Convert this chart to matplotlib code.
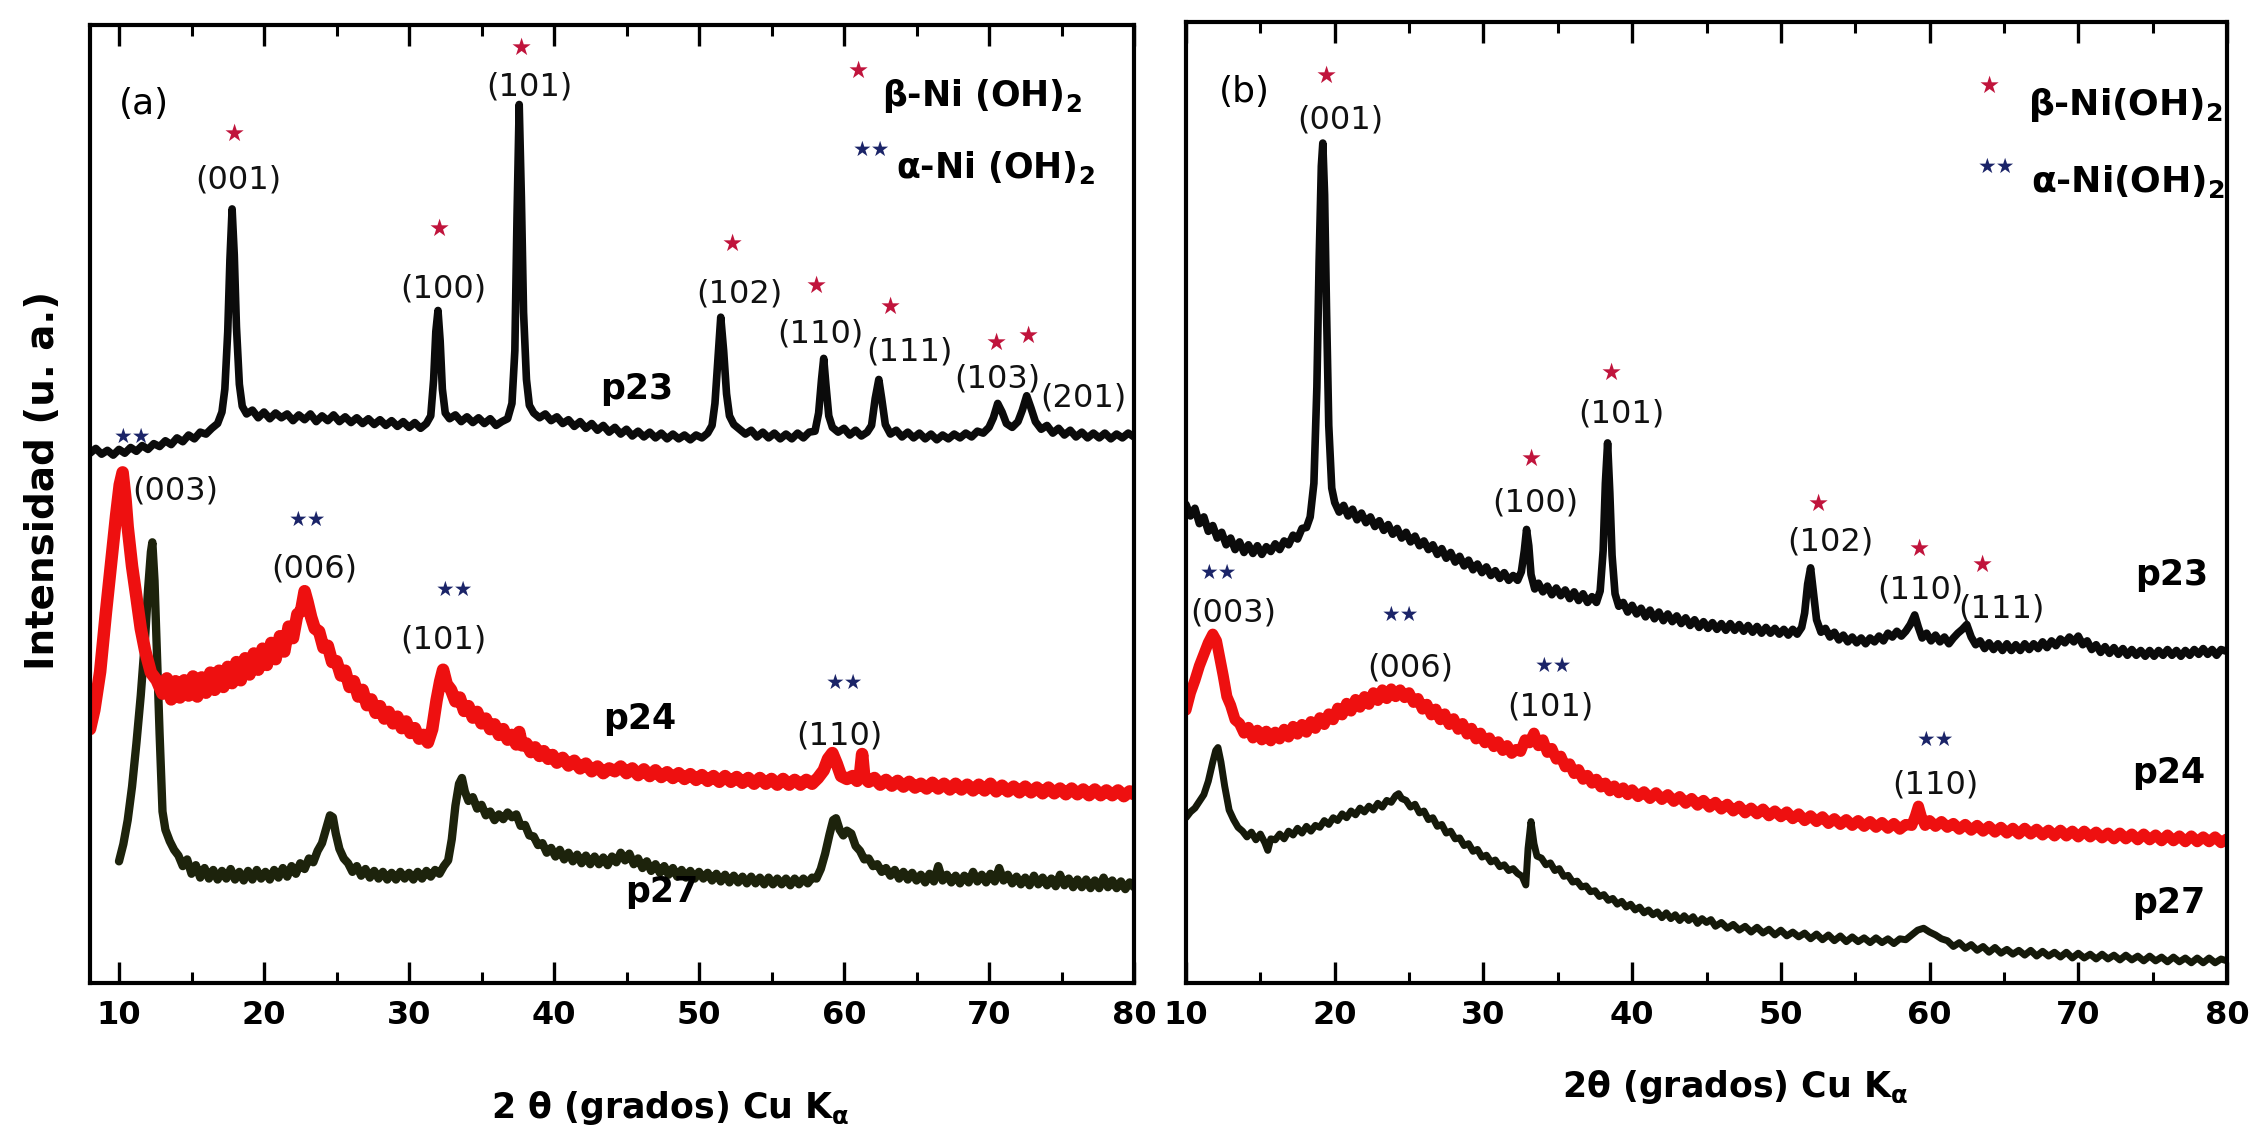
import numpy as np
import matplotlib
matplotlib.use("Agg")
import matplotlib.pyplot as plt
from matplotlib.ticker import MultipleLocator

plt.rcParams["font.family"] = ["DejaVu Sans"]
plt.rcParams["mathtext.fontset"] = "dejavusans"

# ---------------------------------------------------------------- data
# XRD patterns: (2theta, intensity in a.u. with vertical offsets)

# panel (a)
P23_A = [
    (8.0, 55.3), (8.4, 55.8), (8.8, 55.2), (9.2, 55.6), (9.6, 55.1), (10.0, 55.7), (10.4, 55.3),
    (10.8, 55.9), (11.2, 55.5), (11.6, 56.1), (12.0, 55.7), (12.4, 56.3), (12.8, 56.0), (13.2, 56.6),
    (13.6, 56.2), (14.0, 56.9), (14.4, 56.5), (14.8, 57.2), (15.2, 56.8), (15.6, 57.5), (16.0, 57.3),
    (16.4, 57.9), (16.8, 58.4), (17.1, 59.6), (17.3, 62.0), (17.5, 68.0), (17.65, 75.5), (17.8, 80.8),
    (17.95, 76.0), (18.1, 68.5), (18.3, 62.5), (18.5, 60.2), (18.8, 59.4), (19.2, 59.8), (19.6, 59.0),
    (20.0, 59.6), (20.4, 58.9), (20.8, 59.5), (21.2, 59.0), (21.6, 59.4), (22.0, 58.7), (22.4, 59.3),
    (22.8, 58.8), (23.2, 59.4), (23.6, 58.6), (24.0, 59.2), (24.4, 58.7), (24.8, 59.3), (25.2, 58.6),
    (25.6, 59.1), (26.0, 58.5), (26.4, 59.0), (26.8, 58.4), (27.2, 58.9), (27.6, 58.3), (28.0, 58.8),
    (28.4, 58.2), (28.8, 58.7), (29.2, 58.1), (29.6, 58.6), (30.0, 58.0), (30.4, 58.5), (30.8, 57.9),
    (31.2, 58.4), (31.5, 59.2), (31.7, 63.0), (31.85, 68.0), (32.0, 70.2), (32.15, 67.0), (32.3, 62.0),
    (32.5, 59.5), (32.8, 58.9), (33.2, 59.3), (33.6, 58.6), (34.0, 59.1), (34.4, 58.5), (34.8, 59.0),
    (35.2, 58.4), (35.6, 58.9), (36.0, 58.2), (36.4, 58.6), (36.8, 58.9), (37.1, 60.5), (37.3, 66.0),
    (37.45, 80.0), (37.6, 91.7), (37.75, 82.0), (37.9, 70.0), (38.1, 63.0), (38.3, 60.3), (38.6, 59.5),
    (39.0, 59.0), (39.4, 59.4), (39.8, 58.7), (40.2, 59.1), (40.6, 58.4), (41.0, 58.8), (41.4, 58.1),
    (41.8, 58.6), (42.2, 57.9), (42.6, 58.4), (43.0, 57.7), (43.4, 58.2), (43.8, 57.5), (44.2, 58.0),
    (44.6, 57.3), (45.0, 57.8), (45.4, 57.1), (45.8, 57.6), (46.2, 57.0), (46.6, 57.5), (47.0, 56.9),
    (47.4, 57.4), (47.8, 56.8), (48.2, 57.3), (48.6, 56.8), (49.0, 57.2), (49.4, 56.7), (49.8, 57.2),
    (50.2, 56.9), (50.6, 57.4), (50.9, 58.2), (51.1, 60.5), (51.3, 65.0), (51.5, 69.5), (51.7, 66.0),
    (51.9, 61.5), (52.1, 59.2), (52.4, 58.3), (52.8, 57.8), (53.2, 57.3), (53.6, 57.7), (54.0, 57.0),
    (54.4, 57.5), (54.8, 56.9), (55.2, 57.4), (55.6, 56.8), (56.0, 57.3), (56.4, 56.8), (56.8, 57.4),
    (57.2, 56.9), (57.6, 57.5), (58.0, 57.6), (58.25, 59.5), (58.45, 63.0), (58.6, 65.2), (58.75, 62.5),
    (58.95, 59.2), (59.2, 58.0), (59.6, 57.5), (60.0, 57.9), (60.4, 57.2), (60.8, 57.7), (61.2, 57.1),
    (61.6, 57.5), (61.9, 58.2), (62.15, 61.0), (62.4, 63.0), (62.6, 61.0), (62.85, 58.3), (63.2, 57.3),
    (63.6, 57.7), (64.0, 57.0), (64.4, 57.5), (64.8, 56.9), (65.2, 57.4), (65.6, 56.8), (66.0, 57.3),
    (66.4, 56.7), (66.8, 57.2), (67.2, 56.8), (67.6, 57.3), (68.0, 56.9), (68.4, 57.4), (68.8, 57.0),
    (69.2, 57.6), (69.6, 57.4), (70.0, 58.0), (70.3, 59.0), (70.6, 60.5), (70.9, 59.6), (71.2, 58.4),
    (71.6, 58.0), (72.0, 58.6), (72.3, 59.8), (72.6, 61.3), (72.9, 60.0), (73.2, 58.6), (73.6, 57.8),
    (74.0, 58.2), (74.4, 57.4), (74.8, 57.9), (75.2, 57.2), (75.6, 57.7), (76.0, 57.0), (76.4, 57.5),
    (76.8, 56.9), (77.2, 57.4), (77.6, 56.9), (78.0, 57.4), (78.4, 56.8), (78.8, 57.3), (79.2, 56.9),
    (79.6, 57.4), (80.0, 57.0),
]

P24_A = [
    (8.0, 26.5), (8.3, 28.5), (8.7, 32.5), (9.1, 38.7), (9.5, 44.5), (9.8, 48.8), (10.05, 52.0),
    (10.25, 53.3), (10.45, 50.5), (10.6, 47.6), (10.9, 43.5), (11.2, 40.3), (11.5, 37.0), (11.8, 34.7),
    (12.2, 32.4), (12.6, 31.6), (13.0, 30.2), (13.3, 31.8), (13.6, 29.6), (13.9, 31.5), (14.2, 29.8),
    (14.5, 31.6), (14.8, 30.0), (15.1, 32.0), (15.4, 29.9), (15.7, 31.9), (16.0, 30.3), (16.3, 32.4),
    (16.6, 30.6), (16.9, 32.6), (17.2, 30.9), (17.5, 33.0), (17.8, 31.3), (18.1, 33.5), (18.4, 31.6),
    (18.7, 33.9), (19.0, 32.2), (19.3, 34.4), (19.6, 32.7), (19.9, 34.9), (20.2, 33.2), (20.5, 35.5),
    (20.8, 33.8), (21.1, 36.2), (21.4, 34.6), (21.7, 37.2), (22.0, 36.0), (22.3, 38.5), (22.55, 38.8),
    (22.8, 40.9), (23.0, 39.8), (23.25, 38.2), (23.5, 37.0), (23.8, 36.7), (24.1, 35.0), (24.4, 35.2),
    (24.7, 33.5), (25.0, 33.6), (25.3, 32.1), (25.6, 32.6), (25.9, 30.9), (26.2, 31.5), (26.5, 29.9),
    (26.8, 30.6), (27.1, 29.0), (27.4, 29.6), (27.7, 28.2), (28.0, 28.9), (28.3, 27.6), (28.6, 28.3),
    (28.9, 27.1), (29.2, 27.8), (29.5, 26.6), (29.8, 27.3), (30.1, 26.1), (30.4, 26.6), (30.7, 25.5),
    (31.0, 25.9), (31.3, 25.1), (31.6, 26.5), (31.9, 29.5), (32.15, 31.5), (32.35, 32.7), (32.6, 31.2),
    (32.9, 30.6), (33.2, 29.4), (33.5, 29.8), (33.8, 28.4), (34.1, 28.9), (34.4, 27.7), (34.7, 28.3),
    (35.0, 27.1), (35.3, 27.6), (35.6, 26.5), (35.9, 27.0), (36.2, 25.9), (36.5, 26.5), (36.8, 25.4),
    (37.1, 25.9), (37.4, 24.9), (37.6, 26.2), (37.8, 24.8), (38.1, 25.0), (38.4, 24.1), (38.7, 24.6),
    (39.0, 23.7), (39.3, 24.2), (39.6, 23.4), (39.9, 23.8), (40.2, 23.0), (40.6, 23.5), (41.0, 22.7),
    (41.4, 23.2), (41.8, 22.4), (42.2, 22.9), (42.6, 22.1), (43.0, 22.6), (43.4, 21.9), (43.8, 22.4),
    (44.2, 22.1), (44.6, 22.6), (45.0, 21.9), (45.4, 22.4), (45.8, 21.7), (46.2, 22.3), (46.6, 21.6),
    (47.0, 22.2), (47.4, 21.5), (47.8, 22.0), (48.2, 21.4), (48.6, 21.9), (49.0, 21.3), (49.4, 21.8),
    (49.8, 21.2), (50.2, 21.7), (50.6, 21.1), (51.0, 21.6), (51.4, 21.0), (51.8, 21.6), (52.2, 21.0),
    (52.6, 21.5), (53.0, 20.9), (53.4, 21.4), (53.8, 20.8), (54.2, 21.4), (54.6, 20.8), (55.0, 21.3),
    (55.4, 20.7), (55.8, 21.3), (56.2, 20.7), (56.6, 21.2), (57.0, 20.7), (57.4, 21.2), (57.8, 20.8),
    (58.2, 21.4), (58.6, 22.2), (58.9, 23.4), (59.2, 24.0), (59.5, 22.9), (59.8, 21.6), (60.2, 21.3),
    (60.6, 21.6), (60.9, 21.1), (61.1, 21.7), (61.25, 23.9), (61.4, 21.5), (61.7, 21.0), (62.1, 21.4),
    (62.5, 20.7), (62.9, 21.2), (63.3, 20.6), (63.7, 21.1), (64.1, 20.5), (64.5, 21.0), (64.9, 20.4),
    (65.3, 20.8), (65.7, 20.3), (66.1, 20.9), (66.5, 20.3), (66.9, 20.8), (67.3, 20.2), (67.7, 20.8),
    (68.1, 20.2), (68.5, 20.7), (68.9, 20.1), (69.3, 20.7), (69.7, 20.1), (70.1, 20.8), (70.5, 20.0),
    (70.9, 20.6), (71.3, 20.0), (71.7, 20.5), (72.1, 19.9), (72.5, 20.5), (72.9, 19.9), (73.3, 20.4),
    (73.7, 19.8), (74.1, 20.4), (74.5, 19.8), (74.9, 20.3), (75.3, 19.7), (75.7, 20.3), (76.1, 19.7),
    (76.5, 20.2), (76.9, 19.6), (77.3, 20.2), (77.7, 19.6), (78.1, 20.1), (78.5, 19.6), (78.9, 20.1),
    (79.3, 19.5), (79.7, 20.0), (80.0, 19.7),
]

P27_A = [
    (10.0, 12.7), (10.3, 14.5), (10.6, 17.0), (10.9, 20.5), (11.2, 25.0), (11.5, 30.0), (11.8, 36.0),
    (12.0, 41.0), (12.2, 45.0), (12.3, 46.0), (12.45, 42.0), (12.6, 35.0), (12.8, 26.0), (13.0, 17.9),
    (13.2, 16.0), (13.5, 14.8), (13.8, 13.9), (14.1, 13.3), (14.4, 12.2), (14.7, 12.9), (15.0, 11.4),
    (15.3, 12.3), (15.6, 11.0), (15.9, 12.0), (16.2, 10.9), (16.5, 11.8), (16.8, 10.8), (17.1, 11.7),
    (17.4, 10.9), (17.7, 11.9), (18.0, 10.8), (18.3, 11.6), (18.6, 10.7), (18.9, 11.7), (19.2, 10.8),
    (19.5, 11.8), (19.8, 10.9), (20.1, 11.6), (20.4, 10.8), (20.7, 11.8), (21.0, 11.0), (21.3, 12.0),
    (21.6, 11.1), (21.9, 12.2), (22.2, 11.4), (22.5, 12.5), (22.8, 11.9), (23.1, 13.0), (23.4, 12.6),
    (23.7, 13.8), (24.0, 14.6), (24.3, 16.2), (24.55, 17.5), (24.75, 17.3), (24.95, 15.6), (25.2, 14.0),
    (25.5, 13.0), (25.8, 12.5), (26.1, 11.6), (26.4, 12.2), (26.7, 11.2), (27.0, 11.9), (27.3, 11.0),
    (27.6, 11.7), (27.9, 10.9), (28.2, 11.6), (28.5, 10.8), (28.8, 11.5), (29.1, 10.8), (29.4, 11.6),
    (29.7, 10.9), (30.0, 11.5), (30.3, 10.8), (30.6, 11.6), (30.9, 10.9), (31.2, 11.7), (31.5, 11.1),
    (31.8, 11.8), (32.1, 11.4), (32.4, 12.2), (32.7, 12.8), (32.95, 15.0), (33.2, 18.5), (33.45, 20.8),
    (33.65, 21.4), (33.85, 20.0), (34.1, 19.0), (34.4, 19.4), (34.7, 18.2), (35.0, 18.6), (35.3, 17.5),
    (35.6, 17.9), (35.9, 17.0), (36.2, 17.6), (36.5, 17.1), (36.8, 17.8), (37.1, 17.3), (37.4, 17.6),
    (37.7, 16.4), (38.0, 16.5), (38.3, 15.4), (38.6, 15.3), (38.9, 14.4), (39.2, 14.6), (39.5, 13.6),
    (39.8, 14.1), (40.1, 13.2), (40.4, 13.9), (40.7, 12.9), (41.0, 13.6), (41.3, 12.7), (41.6, 13.4),
    (41.9, 12.5), (42.2, 13.3), (42.5, 12.4), (42.8, 13.2), (43.1, 12.4), (43.4, 13.1), (43.7, 12.3),
    (44.0, 13.2), (44.3, 12.6), (44.6, 13.6), (44.9, 12.8), (45.2, 13.5), (45.5, 12.4), (45.8, 13.0),
    (46.1, 12.0), (46.4, 12.7), (46.7, 11.7), (47.0, 12.4), (47.3, 11.5), (47.6, 12.2), (47.9, 11.3),
    (48.2, 12.0), (48.5, 11.1), (48.8, 11.8), (49.1, 11.0), (49.4, 11.7), (49.7, 10.9), (50.0, 11.6),
    (50.3, 10.9), (50.6, 11.5), (50.9, 10.7), (51.2, 11.4), (51.5, 10.6), (51.8, 11.3), (52.1, 10.5),
    (52.4, 11.2), (52.7, 10.5), (53.0, 11.1), (53.3, 10.4), (53.6, 11.1), (53.9, 10.4), (54.2, 11.0),
    (54.5, 10.3), (54.8, 11.0), (55.1, 10.3), (55.4, 10.9), (55.7, 10.3), (56.0, 10.9), (56.3, 10.2),
    (56.6, 10.9), (56.9, 10.3), (57.2, 10.9), (57.5, 10.4), (57.8, 11.0), (58.1, 10.9), (58.4, 11.9),
    (58.7, 13.5), (59.0, 15.5), (59.25, 17.0), (59.45, 17.2), (59.7, 16.0), (59.95, 15.4), (60.2, 15.9),
    (60.5, 15.6), (60.8, 14.3), (61.1, 13.8), (61.4, 12.9), (61.7, 13.0), (62.0, 12.2), (62.3, 12.4),
    (62.6, 11.6), (62.9, 12.0), (63.2, 11.2), (63.5, 11.8), (63.8, 10.9), (64.1, 11.6), (64.4, 10.8),
    (64.7, 11.5), (65.0, 10.7), (65.3, 11.3), (65.6, 10.5), (65.9, 11.4), (66.2, 10.6), (66.5, 12.2),
    (66.8, 10.7), (67.1, 11.3), (67.4, 10.5), (67.7, 11.2), (68.0, 10.4), (68.3, 11.2), (68.6, 10.5),
    (68.9, 11.6), (69.2, 10.6), (69.5, 11.3), (69.8, 10.5), (70.1, 11.4), (70.4, 10.6), (70.7, 12.0),
    (71.0, 10.7), (71.3, 11.3), (71.6, 10.4), (71.9, 11.1), (72.2, 10.3), (72.5, 11.0), (72.8, 10.2),
    (73.1, 11.2), (73.4, 10.3), (73.7, 11.0), (74.0, 10.2), (74.3, 10.9), (74.6, 10.1), (74.9, 11.3),
    (75.2, 10.2), (75.5, 10.9), (75.8, 10.0), (76.1, 10.8), (76.4, 10.0), (76.7, 10.8), (77.0, 9.9),
    (77.3, 10.7), (77.6, 9.9), (77.9, 11.0), (78.2, 10.0), (78.5, 10.7), (78.8, 9.9), (79.1, 10.6),
    (79.4, 9.8), (79.7, 10.5), (80.0, 10.0),
]

# panel (b)
P23_B = [
    (10.0, 49.8), (10.3, 48.6), (10.6, 49.4), (10.9, 47.8), (11.2, 48.5), (11.5, 47.0), (11.8, 47.6),
    (12.1, 46.3), (12.4, 46.9), (12.7, 45.6), (13.0, 46.3), (13.3, 45.1), (13.6, 45.9), (13.9, 44.8),
    (14.2, 45.6), (14.5, 44.7), (14.8, 45.5), (15.1, 44.6), (15.4, 45.4), (15.7, 44.9), (16.0, 45.7),
    (16.3, 45.1), (16.6, 46.0), (16.9, 45.6), (17.2, 46.6), (17.5, 46.2), (17.8, 47.3), (18.1, 47.4),
    (18.35, 48.5), (18.6, 52.0), (18.8, 62.0), (18.95, 75.0), (19.1, 85.0), (19.2, 87.4), (19.32, 82.0),
    (19.45, 70.0), (19.6, 58.0), (19.8, 51.5), (20.0, 50.0), (20.3, 49.0), (20.6, 49.7), (20.9, 48.6),
    (21.2, 49.3), (21.5, 48.2), (21.8, 48.9), (22.1, 47.9), (22.4, 48.5), (22.7, 47.5), (23.0, 48.1),
    (23.3, 47.1), (23.6, 47.7), (23.9, 46.7), (24.2, 47.3), (24.5, 46.3), (24.8, 46.9), (25.1, 45.9),
    (25.4, 46.5), (25.7, 45.5), (26.0, 46.0), (26.3, 45.1), (26.6, 45.6), (26.9, 44.6), (27.2, 45.2),
    (27.5, 44.2), (27.8, 44.8), (28.1, 43.8), (28.4, 44.4), (28.7, 43.4), (29.0, 44.0), (29.3, 43.0),
    (29.6, 43.6), (29.9, 42.7), (30.2, 43.3), (30.5, 42.4), (30.8, 42.9), (31.1, 42.1), (31.4, 42.7),
    (31.7, 41.9), (32.0, 42.4), (32.3, 41.9), (32.55, 42.8), (32.75, 45.0), (32.9, 47.2), (33.05, 45.5),
    (33.2, 42.5), (33.45, 41.0), (33.7, 41.6), (34.0, 40.7), (34.3, 41.3), (34.6, 40.4), (34.9, 41.1),
    (35.2, 40.3), (35.5, 40.9), (35.8, 40.0), (36.1, 40.7), (36.4, 39.8), (36.7, 40.5), (37.0, 39.6),
    (37.3, 40.2), (37.6, 39.6), (37.85, 40.8), (38.05, 45.0), (38.2, 52.0), (38.35, 56.2), (38.5, 51.0),
    (38.65, 44.5), (38.85, 40.5), (39.1, 39.2), (39.4, 39.6), (39.7, 38.6), (40.0, 39.3), (40.3, 38.4),
    (40.6, 39.0), (40.9, 38.1), (41.2, 38.8), (41.5, 37.9), (41.8, 38.6), (42.1, 37.7), (42.4, 38.4),
    (42.7, 37.6), (43.0, 38.2), (43.3, 37.4), (43.6, 38.0), (43.9, 37.2), (44.2, 37.8), (44.5, 37.0),
    (44.8, 37.6), (45.1, 36.9), (45.4, 37.5), (45.7, 36.8), (46.0, 37.4), (46.3, 36.7), (46.6, 37.4),
    (46.9, 36.7), (47.2, 37.3), (47.5, 36.6), (47.8, 37.2), (48.1, 36.5), (48.4, 37.1), (48.7, 36.4),
    (49.0, 37.0), (49.3, 36.4), (49.6, 36.9), (49.9, 36.3), (50.2, 36.8), (50.5, 36.2), (50.8, 36.8),
    (51.1, 36.3), (51.4, 37.0), (51.6, 38.5), (51.8, 41.5), (52.0, 43.2), (52.2, 40.5), (52.4, 37.8),
    (52.7, 36.5), (53.0, 36.9), (53.3, 36.0), (53.6, 36.5), (53.9, 35.7), (54.2, 36.2), (54.5, 35.5),
    (54.8, 36.0), (55.1, 35.4), (55.4, 35.9), (55.7, 35.3), (56.0, 35.9), (56.3, 35.5), (56.6, 36.1),
    (56.9, 35.6), (57.2, 36.4), (57.5, 36.0), (57.8, 36.6), (58.1, 36.1), (58.4, 36.6), (58.7, 37.3),
    (59.0, 38.3), (59.25, 37.0), (59.5, 35.9), (59.8, 36.4), (60.1, 35.6), (60.4, 36.2), (60.7, 35.5),
    (61.0, 36.0), (61.3, 35.3), (61.6, 35.9), (61.9, 36.4), (62.2, 36.8), (62.5, 37.3), (62.8, 36.0),
    (63.1, 35.2), (63.4, 35.6), (63.7, 34.8), (64.0, 35.4), (64.3, 34.7), (64.6, 35.3), (64.9, 34.6),
    (65.2, 35.3), (65.5, 34.6), (65.8, 35.2), (66.1, 34.6), (66.4, 35.3), (66.7, 34.7), (67.0, 35.3),
    (67.3, 34.8), (67.6, 35.5), (67.9, 34.9), (68.2, 35.6), (68.5, 35.1), (68.8, 35.8), (69.1, 35.4),
    (69.4, 36.0), (69.7, 35.5), (70.0, 36.1), (70.3, 35.2), (70.6, 35.6), (70.9, 34.7), (71.2, 35.2),
    (71.5, 34.4), (71.8, 35.0), (72.1, 34.3), (72.4, 34.9), (72.7, 34.2), (73.0, 34.8), (73.3, 34.1),
    (73.6, 34.7), (73.9, 34.1), (74.2, 34.6), (74.5, 34.0), (74.8, 34.6), (75.1, 34.0), (75.4, 34.6),
    (75.7, 34.1), (76.0, 34.7), (76.3, 34.1), (76.6, 34.6), (76.9, 34.0), (77.2, 34.6), (77.5, 34.1),
    (77.8, 34.7), (78.1, 34.2), (78.4, 34.8), (78.7, 34.2), (79.0, 34.7), (79.3, 34.1), (79.6, 34.7),
    (80.0, 34.5),
]

P24_B = [
    (10.0, 28.4), (10.3, 30.2), (10.6, 31.5), (10.9, 33.0), (11.2, 34.2), (11.5, 35.4), (11.8, 36.3),
    (12.05, 35.6), (12.3, 33.6), (12.5, 32.0), (12.75, 29.8), (13.0, 28.9), (13.3, 27.4), (13.6, 27.0),
    (13.9, 26.0), (14.2, 26.6), (14.5, 25.5), (14.8, 26.3), (15.1, 25.3), (15.4, 26.2), (15.7, 25.2),
    (16.0, 26.1), (16.3, 25.4), (16.6, 26.4), (16.9, 25.6), (17.2, 26.7), (17.5, 25.9), (17.8, 26.9),
    (18.1, 26.1), (18.4, 27.2), (18.7, 26.5), (19.0, 27.6), (19.3, 26.9), (19.6, 28.0), (19.9, 27.4),
    (20.2, 28.6), (20.5, 27.9), (20.8, 29.1), (21.1, 28.3), (21.4, 29.5), (21.7, 28.7), (22.0, 29.8),
    (22.3, 29.0), (22.6, 30.2), (22.9, 29.4), (23.2, 30.5), (23.5, 29.6), (23.8, 30.6), (24.1, 29.8),
    (24.4, 30.5), (24.7, 29.7), (25.0, 30.2), (25.3, 29.2), (25.6, 29.6), (25.9, 28.5), (26.2, 29.0),
    (26.5, 27.9), (26.8, 28.5), (27.1, 27.4), (27.4, 28.0), (27.7, 26.9), (28.0, 27.5), (28.3, 26.4),
    (28.6, 27.0), (28.9, 25.9), (29.2, 26.5), (29.5, 25.4), (29.8, 26.0), (30.1, 25.0), (30.4, 25.5),
    (30.7, 24.6), (31.0, 25.1), (31.3, 24.2), (31.6, 24.7), (31.9, 23.9), (32.2, 24.3), (32.5, 24.1),
    (32.8, 25.3), (33.1, 25.0), (33.4, 26.0), (33.7, 24.7), (34.0, 25.3), (34.3, 24.0), (34.6, 24.4),
    (34.9, 23.3), (35.2, 23.6), (35.5, 22.5), (35.8, 22.8), (36.1, 21.8), (36.4, 22.2), (36.7, 21.2),
    (37.0, 21.6), (37.3, 20.8), (37.6, 21.2), (37.9, 20.4), (38.2, 20.8), (38.5, 20.0), (38.8, 20.5),
    (39.1, 19.8), (39.4, 20.3), (39.7, 19.6), (40.0, 20.1), (40.4, 19.4), (40.8, 19.9), (41.2, 19.2),
    (41.6, 19.8), (42.0, 19.1), (42.4, 19.6), (42.8, 18.9), (43.2, 19.4), (43.6, 18.7), (44.0, 19.2),
    (44.4, 18.5), (44.8, 19.0), (45.2, 18.3), (45.6, 18.8), (46.0, 18.1), (46.4, 18.6), (46.8, 17.9),
    (47.2, 18.4), (47.6, 17.7), (48.0, 18.2), (48.4, 17.6), (48.8, 18.1), (49.2, 17.4), (49.6, 17.9),
    (50.0, 17.3), (50.4, 17.8), (50.8, 17.1), (51.2, 17.6), (51.6, 16.9), (52.0, 17.4), (52.4, 16.8),
    (52.8, 17.3), (53.2, 16.6), (53.6, 17.1), (54.0, 16.5), (54.4, 17.0), (54.8, 16.4), (55.2, 16.9),
    (55.6, 16.3), (56.0, 16.8), (56.4, 16.2), (56.8, 16.7), (57.2, 16.1), (57.6, 16.6), (58.0, 16.0),
    (58.4, 16.5), (58.8, 16.4), (59.05, 17.4), (59.25, 18.4), (59.45, 17.3), (59.7, 16.4), (60.0, 16.9),
    (60.4, 16.3), (60.8, 16.8), (61.2, 16.2), (61.6, 16.6), (62.0, 16.0), (62.4, 16.5), (62.8, 15.9),
    (63.2, 16.4), (63.6, 15.8), (64.0, 16.3), (64.4, 15.7), (64.8, 16.2), (65.2, 15.6), (65.6, 16.1),
    (66.0, 15.5), (66.4, 16.1), (66.8, 15.5), (67.2, 16.0), (67.6, 15.4), (68.0, 15.9), (68.4, 15.3),
    (68.8, 15.9), (69.2, 15.3), (69.6, 15.8), (70.0, 15.2), (70.4, 15.8), (70.8, 15.2), (71.2, 15.7),
    (71.6, 15.1), (72.0, 15.6), (72.4, 15.0), (72.8, 15.6), (73.2, 15.0), (73.6, 15.5), (74.0, 14.9),
    (74.4, 15.5), (74.8, 14.9), (75.2, 15.4), (75.6, 14.8), (76.0, 15.4), (76.4, 14.8), (76.8, 15.3),
    (77.2, 14.7), (77.6, 15.3), (78.0, 14.7), (78.4, 15.2), (78.8, 14.7), (79.2, 15.2), (79.6, 14.6),
    (80.0, 15.0),
]

P27_B = [
    (10.0, 17.2), (10.3, 17.8), (10.6, 18.2), (10.9, 18.9), (11.2, 19.6), (11.5, 21.0), (11.8, 23.0),
    (12.0, 24.2), (12.15, 24.5), (12.35, 23.0), (12.6, 20.5), (12.9, 18.0), (13.2, 17.0), (13.5, 16.2),
    (13.8, 15.8), (14.1, 15.2), (14.4, 15.7), (14.7, 14.9), (15.0, 15.5), (15.3, 14.6), (15.5, 13.8),
    (15.7, 15.0), (16.0, 14.9), (16.3, 15.5), (16.6, 15.0), (16.9, 15.8), (17.2, 15.4), (17.5, 16.1),
    (17.8, 15.6), (18.1, 16.3), (18.4, 15.8), (18.7, 16.4), (19.0, 16.2), (19.3, 16.9), (19.6, 16.5),
    (19.9, 17.2), (20.2, 16.9), (20.5, 17.6), (20.8, 17.2), (21.1, 17.9), (21.4, 17.5), (21.7, 18.2),
    (22.0, 17.8), (22.3, 18.4), (22.6, 18.0), (22.9, 18.7), (23.2, 18.3), (23.5, 19.0), (23.8, 18.8),
    (24.1, 19.5), (24.3, 19.7), (24.5, 19.2), (24.8, 19.0), (25.1, 18.3), (25.4, 18.6), (25.7, 17.7),
    (26.0, 17.9), (26.3, 17.0), (26.6, 17.2), (26.9, 16.3), (27.2, 16.5), (27.5, 15.6), (27.8, 15.8),
    (28.1, 15.0), (28.4, 15.1), (28.7, 14.3), (29.0, 14.5), (29.3, 13.7), (29.6, 13.9), (29.9, 13.1),
    (30.2, 13.3), (30.5, 12.6), (30.8, 12.8), (31.1, 12.1), (31.4, 12.3), (31.7, 11.7), (32.0, 11.9),
    (32.3, 11.4), (32.6, 11.1), (32.85, 10.2), (33.0, 14.0), (33.2, 16.8), (33.4, 14.5), (33.6, 13.2),
    (33.9, 13.0), (34.2, 12.3), (34.5, 12.5), (34.8, 11.7), (35.1, 11.9), (35.4, 11.1), (35.7, 11.2),
    (36.0, 10.5), (36.3, 10.6), (36.6, 10.0), (36.9, 10.1), (37.2, 9.5), (37.5, 9.6), (37.8, 9.0),
    (38.1, 9.2), (38.4, 8.6), (38.7, 8.8), (39.0, 8.2), (39.3, 8.5), (39.6, 7.9), (39.9, 8.2),
    (40.2, 7.6), (40.5, 7.9), (40.8, 7.3), (41.1, 7.6), (41.4, 7.1), (41.7, 7.4), (42.0, 6.8),
    (42.3, 7.3), (42.6, 6.7), (42.9, 7.1), (43.2, 6.5), (43.5, 7.0), (43.8, 6.5), (44.1, 6.9),
    (44.4, 6.2), (44.7, 6.7), (45.0, 6.3), (45.3, 6.6), (45.6, 5.9), (46.0, 6.3), (46.4, 5.7),
    (46.8, 6.1), (47.2, 5.5), (47.6, 5.9), (48.0, 5.3), (48.4, 5.8), (48.8, 5.2), (49.2, 5.6),
    (49.6, 5.0), (50.0, 5.5), (50.4, 4.9), (50.8, 5.3), (51.2, 4.8), (51.6, 5.2), (52.0, 4.6),
    (52.4, 5.1), (52.8, 4.5), (53.2, 5.0), (53.6, 4.4), (54.0, 4.9), (54.4, 4.3), (54.8, 4.8),
    (55.2, 4.3), (55.6, 4.7), (56.0, 4.2), (56.4, 4.7), (56.8, 4.2), (57.2, 4.6), (57.6, 4.1),
    (58.0, 4.6), (58.4, 4.5), (58.8, 5.0), (59.2, 5.5), (59.6, 5.7), (60.0, 5.3), (60.4, 5.0),
    (60.8, 4.6), (61.2, 4.4), (61.6, 3.8), (62.0, 4.2), (62.4, 3.6), (62.8, 4.0), (63.2, 3.4),
    (63.6, 3.8), (64.0, 3.2), (64.4, 3.7), (64.8, 3.1), (65.2, 3.5), (65.6, 3.0), (66.0, 3.4),
    (66.4, 2.9), (66.8, 3.4), (67.2, 2.8), (67.6, 3.3), (68.0, 2.8), (68.4, 3.2), (68.8, 2.7),
    (69.2, 3.2), (69.6, 2.6), (70.0, 3.1), (70.4, 2.6), (70.8, 3.0), (71.2, 2.5), (71.6, 3.0),
    (72.0, 2.5), (72.4, 2.9), (72.8, 2.4), (73.2, 2.9), (73.6, 2.4), (74.0, 2.8), (74.4, 2.3),
    (74.8, 2.8), (75.2, 2.3), (75.6, 2.7), (76.0, 2.2), (76.4, 2.7), (76.8, 2.2), (77.2, 2.6),
    (77.6, 2.1), (78.0, 2.6), (78.4, 2.1), (78.8, 2.6), (79.2, 2.1), (79.6, 2.5), (80.0, 2.3),
]

# reflection labels: (hkl, label x, label y, marker x, marker y)
BETA_A = [
    ("(001)", 18.2, 83.8, 17.9, 88.6),
    ("(100)", 32.4, 72.4, 32.1, 78.7),
    ("(101)", 38.3, 93.5, 37.7, 97.6),
    ("(102)", 52.8, 71.9, 52.3, 77.2),
    ("(110)", 58.4, 67.7, 58.1, 72.8),
    ("(111)", 64.5, 65.9, 63.2, 70.6),
    ("(103)", 70.6, 63.1, 70.5, 66.8),
    ("(201)", 76.5, 61.1, 72.7, 67.5),
]
ALPHA_A = [
    ("(003)", 13.9, 51.4, 10.9, 57.0),
    ("(006)", 23.5, 43.2, 23.0, 48.3),
    ("(101)", 32.4, 35.8, 33.1, 41.0),
    ("(110)", 59.7, 25.8, 60.0, 31.3),
]
BETA_B = [
    ("(001)", 20.4, 89.8, 19.4, 94.4),
    ("(100)", 33.5, 49.9, 33.2, 54.5),
    ("(101)", 39.3, 59.2, 38.6, 63.5),
    ("(102)", 53.3, 45.9, 52.5, 49.9),
    ("(110)", 59.4, 40.9, 59.3, 45.2),
    ("(111)", 64.8, 38.9, 63.5, 43.5),
]
ALPHA_B = [
    ("(003)", 13.2, 38.5, 12.2, 42.7),
    ("(006)", 25.1, 32.8, 24.4, 38.3),
    ("(101)", 34.5, 28.7, 34.7, 33.0),
    ("(110)", 60.4, 20.6, 60.4, 25.3),
]

SAMPLES = ["p23", "p24", "p27"]
SAMPLE_POS_A = [(45.7, 62.0), (45.9, 27.6), (47.4, 9.5)]
SAMPLE_POS_B = [(76.3, 42.5), (76.1, 21.9), (76.1, 8.3)]

XTICKS = [10, 20, 30, 40, 50, 60, 70, 80]

# ---------------------------------------------------------------- style
RED = "#ee1010"
BLACK = "#0b0b0b"
OLIVE_A = "#1d230c"
OLIVE_B = "#15190a"
STAR_RED = "#c0143c"
STAR_BLUE = "#1b2468"

W, H = 2256, 1131
fig = plt.figure(figsize=(W / 100, H / 100), dpi=100)


def axes_px(left, top, right, bottom):
    return fig.add_axes([left / W, 1 - bottom / H, (right - left) / W, (bottom - top) / H])


ax_a = axes_px(90, 25, 1134, 983)
ax_b = axes_px(1186, 22, 2227, 983)


def style_axes(ax, xmin):
    ax.set_xlim(xmin, 80)
    ax.set_ylim(0, 100)
    ax.set_yticks([])
    ax.set_xticks(XTICKS)
    ax.set_xticklabels([str(t) for t in XTICKS], fontsize=23, fontweight="bold")
    ax.xaxis.set_minor_locator(MultipleLocator(5))
    ax.tick_params(axis="x", which="major", direction="in", top=True, length=15, width=2.4, pad=12)
    ax.tick_params(axis="x", which="minor", direction="in", top=True, length=8, width=2.2)
    for s in ax.spines.values():
        s.set_linewidth(3.0)


def draw_curve(ax, pts, color, lw):
    arr = np.array(pts)
    ax.plot(arr[:, 0], arr[:, 1], color=color, lw=lw,
            solid_joinstyle="round", solid_capstyle="round")


def label_reflections(ax, items, star, color, star_size):
    for hkl, lx, ly, sx, sy in items:
        ax.text(lx, ly, hkl, fontsize=23, ha="center", va="center", color="#111111")
        ax.text(sx, sy, star, fontsize=star_size, ha="center", va="center", color=color)


style_axes(ax_a, 8)
style_axes(ax_b, 10)

draw_curve(ax_a, P27_A, OLIVE_A, 6.0)
draw_curve(ax_a, P24_A, RED, 9.0)
draw_curve(ax_a, P23_A, BLACK, 5.5)

draw_curve(ax_b, P27_B, OLIVE_B, 5.0)
draw_curve(ax_b, P24_B, RED, 8.0)
draw_curve(ax_b, P23_B, BLACK, 5.5)

label_reflections(ax_a, BETA_A, "★", STAR_RED, 17)
label_reflections(ax_a, ALPHA_A, "★★", STAR_BLUE, 15)
label_reflections(ax_b, BETA_B, "★", STAR_RED, 17)
label_reflections(ax_b, ALPHA_B, "★★", STAR_BLUE, 15)

for name, (x, y) in zip(SAMPLES, SAMPLE_POS_A):
    ax_a.text(x, y, name, fontsize=25, fontweight="bold", ha="center", va="center")
for name, (x, y) in zip(SAMPLES, SAMPLE_POS_B):
    ax_b.text(x, y, name, fontsize=25, fontweight="bold", ha="center", va="center")

# panel tags
ax_a.text(11.7, 91.8, "(a)", fontsize=26, ha="center", va="center")
ax_b.text(13.9, 92.7, "(b)", fontsize=26, ha="center", va="center")

# phase keys
ax_a.text(61.0, 95.2, "★", fontsize=17, color=STAR_RED, ha="center", va="center")
ax_a.text(62.6, 92.6, r"β-Ni (OH)$_\mathbf{2}$", fontsize=25, fontweight="bold",
          ha="left", va="center", clip_on=False)
ax_a.text(61.9, 87.0, "★★", fontsize=15, color=STAR_BLUE, ha="center", va="center")
ax_a.text(63.6, 85.1, r"α-Ni (OH)$_\mathbf{2}$", fontsize=25, fontweight="bold",
          ha="left", va="center", clip_on=False)

ax_b.text(64.0, 93.3, "★", fontsize=17, color=STAR_RED, ha="center", va="center")
ax_b.text(66.6, 91.4, r"β-Ni(OH)$_\mathbf{2}$", fontsize=26, fontweight="bold",
          ha="left", va="center", clip_on=False)
ax_b.text(64.5, 84.9, "★★", fontsize=15, color=STAR_BLUE, ha="center", va="center")
ax_b.text(66.8, 83.4, r"α-Ni(OH)$_\mathbf{2}$", fontsize=26, fontweight="bold",
          ha="left", va="center", clip_on=False)

# axis titles
fig.text(43 / W, 1 - 480 / H, "Intensidad (u. a.)", rotation=90, fontsize=28,
         fontweight="bold", ha="center", va="center")
fig.text(670 / W, 1 - 1108 / H, r"2 θ (grados) Cu K$_\mathbf{\alpha}$", fontsize=25,
         fontweight="bold", ha="center", va="center")
fig.text(1735 / W, 1 - 1087 / H, r"2θ (grados) Cu K$_\mathbf{\alpha}$", fontsize=25,
         fontweight="bold", ha="center", va="center")

fig.savefig("out.png", dpi=100, facecolor="white")
